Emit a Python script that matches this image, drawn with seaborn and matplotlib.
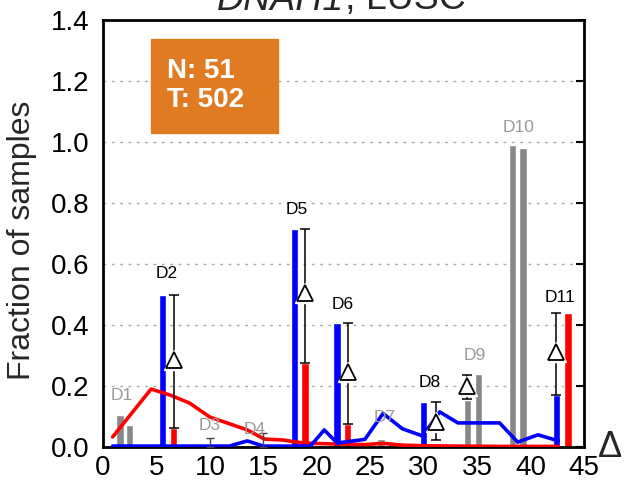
import numpy as np
import matplotlib
matplotlib.use('Agg')
import matplotlib.pyplot as plt
import seaborn as sns
from matplotlib.patches import Rectangle

# domain labels and where they sit
domains = ['D1', 'D2', 'D3', 'D4', 'D5', 'D6', 'D7', 'D8', 'D9', 'D10', 'D11']
label_x = [1.8, 6.0, 10.0, 14.2, 18.1, 22.4, 26.4, 30.6, 34.8, 38.9, 42.8]
label_y = [0.17, 0.57, 0.072, 0.056, 0.78, 0.466, 0.098, 0.21, 0.30, 1.046, 0.49]
significant = [False, True, False, False, True, True, False, True, False, False, True]

# paired bars per domain (first / second)
bar1_x = [1.6, 5.6, 9.5, 14.0, 17.9, 21.9, 26.0, 30.0, 34.1, 38.3, 42.4]
bar1_h = [0.105, 0.50, 0.0, 0.0, 0.715, 0.405, 0.025, 0.148, 0.155, 0.99, 0.17]
bar2_x = [2.5, 6.6, 10.5, 15.0, 18.9, 22.9, 27.0, 31.2, 35.1, 39.3, 43.5]
bar2_h = [0.072, 0.062, 0.0, 0.0, 0.275, 0.075, 0.0, 0.01, 0.24, 0.98, 0.44]

# mean markers with range
tri_x = [6.6, 18.9, 22.9, 31.2, 34.1, 42.4]
tri_y = [0.285, 0.505, 0.245, 0.082, 0.20, 0.31]
tri_lo = [0.062, 0.275, 0.075, 0.022, 0.157, 0.17]
tri_hi = [0.50, 0.715, 0.405, 0.148, 0.236, 0.44]

# small ranges without marker (D3, D4)
small_x = [10.0, 15.0]
small_lo = [0.0, 0.0]
small_hi = [0.03, 0.045]

# background curves
red_x = [0.9, 4.5, 6.3, 8.1, 10.0, 11.6, 13.5, 15.1, 16.8, 18.7, 21.5, 24.5, 26.2, 28.0, 30.0, 33.0, 37.0, 40.0, 42.6]
red_y = [0.033, 0.19, 0.17, 0.144, 0.098, 0.079, 0.056, 0.026, 0.023, 0.013, 0.01, 0.008, 0.012, 0.006, 0.004, 0.003, 0.002, 0.002, 0.002]
blue_x = [0.9, 11.8, 13.5, 15.0, 19.4, 20.7, 21.9, 24.5, 26.2, 28.0, 29.9, 31.5, 33.2, 37.1, 38.8, 40.7, 42.6]
blue_y = [0.003, 0.003, 0.02, 0.003, 0.003, 0.056, 0.013, 0.025, 0.11, 0.06, 0.036, 0.115, 0.079, 0.079, 0.016, 0.04, 0.02]

sns.set_theme(style='white')
plt.rcParams['font.family'] = ['Liberation Sans', 'DejaVu Sans']

fig = plt.figure(figsize=(6.28, 4.86), dpi=100)
ax = fig.add_axes([103 / 628, 1 - 447 / 486, 481 / 628, 427 / 486])

gray = '#888888'
for i in range(len(domains)):
    c1 = 'blue' if significant[i] else gray
    c2 = 'red' if significant[i] else gray
    ax.bar(bar1_x[i], bar1_h[i], width=0.68, color=c1, zorder=2)
    ax.bar(bar2_x[i], bar2_h[i], width=0.68, color=c2, zorder=2)
    ax.text(label_x[i], label_y[i], domains[i], ha='center', va='center', fontsize=12.5,
            color='black' if significant[i] else '#999999', zorder=6)

sns.lineplot(x=red_x, y=red_y, color='red', lw=2.6, ax=ax, zorder=3)
sns.lineplot(x=blue_x, y=blue_y, color='blue', lw=2.6, ax=ax, zorder=3)

tri_y = np.array(tri_y)
yerr = [tri_y - np.array(tri_lo), np.array(tri_hi) - tri_y]
ax.errorbar(tri_x, tri_y, yerr=yerr, fmt='none', ecolor='black', elinewidth=1.1,
            capsize=3.5, capthick=1.1, zorder=4)
ax.errorbar(small_x, small_lo, yerr=[np.zeros(2), np.array(small_hi) - np.array(small_lo)],
            fmt='none', ecolor='#444444', elinewidth=1.0, capsize=3, capthick=1.0, zorder=4)
ax.plot(tri_x, tri_y, '^', ms=15, color='white', mec='white', zorder=5)
ax.plot(tri_x, tri_y, '^', ms=11, mfc='white', mec='black', mew=1.3, zorder=5)

ax.set_xlim(0, 45)
ax.set_ylim(0, 1.4)
ax.set_xticks(range(0, 46, 5))
ax.set_yticks(np.arange(0, 1.41, 0.2))
ax.set_yticklabels([f'{v:.1f}' for v in np.arange(0, 1.41, 0.2)])
ax.yaxis.grid(True, color='#aaaaaa', linestyle=(0, (2, 4)), lw=1, zorder=0)
ax.xaxis.grid(False)
for s in ax.spines.values():
    s.set_color('black')
    s.set_linewidth(2)
ax.tick_params(direction='in', length=6, width=1.5, right=True, top=False,
               labelsize=20, colors='black')
ax.tick_params(axis='y', pad=10)
ax.tick_params(axis='x', pad=6)

ax.set_ylabel('Fraction of samples', fontsize=23)
ax.yaxis.label.set_va('center')
ax.yaxis.set_label_coords(-0.168, 0.485)

# sample count box
ax.add_patch(Rectangle((0.10, 0.735), 0.264, 0.22, transform=ax.transAxes,
                       color='#E07B24', zorder=6))
ax.text(0.133, 0.847, 'N: 51\nT: 502', transform=ax.transAxes, ha='left', va='center',
        fontsize=20, fontweight='bold', color='white', linespacing=1.15, zorder=7)

fig.text(610 / 628, 1 - 447 / 486, 'Δ', ha='center', va='center', fontsize=26)

# title, mostly cut off at the top
fig.text(344 / 628, 1 - 9.5 / 486, 'DNAH1', ha='right', va='baseline', fontsize=27, style='italic')
fig.text(345 / 628, 1 - 9.5 / 486, ', LUSC', ha='left', va='baseline', fontsize=27)

fig.savefig('out.png', dpi=100)
